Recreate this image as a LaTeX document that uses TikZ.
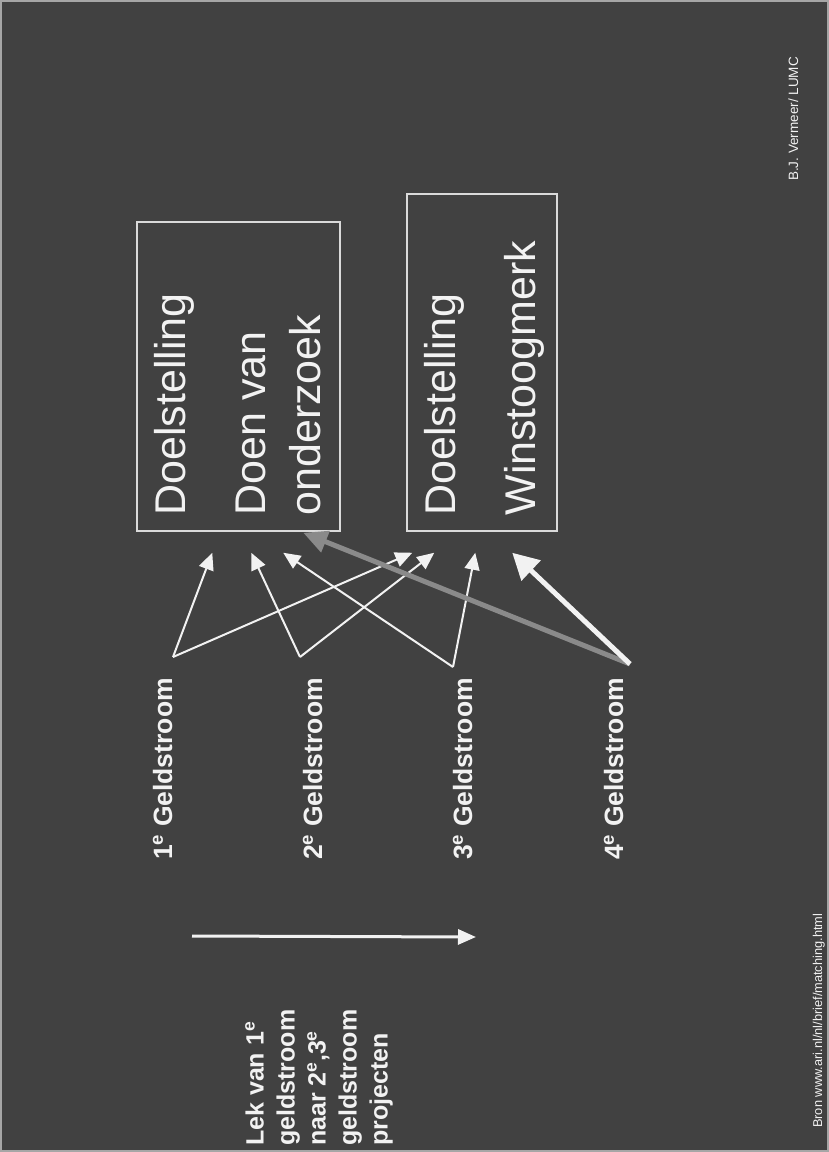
\documentclass[tikz,border=0pt]{standalone}
\usepackage{fontspec}
\setmainfont{Liberation Sans}
\usetikzlibrary{arrows.meta}
\definecolor{slide}{HTML}{414141}
\definecolor{leakgray}{HTML}{8A8A8A}
\definecolor{chalk}{HTML}{F2F2F2}
\tikzset{
  goalbox/.style={draw=chalk!90!black, line width=1.5pt, inner sep=0pt},
  goaltext/.style={text=chalk, rotate=90, inner sep=0pt, align=left, font=\fontsize{43}{55}\selectfont},
  stream/.style={text=chalk, rotate=90, inner sep=0pt, font=\bfseries\fontsize{26.5}{32}\selectfont},
  leaktext/.style={text=chalk, rotate=90, inner sep=0pt, align=left, font=\bfseries\fontsize{25}{31}\selectfont},
  note/.style={text=chalk, rotate=90, inner sep=0pt},
  flow/.style={chalk, line width=2pt, -{Triangle[length=17pt,width=15pt]}},
}
\begin{document}
\begin{tikzpicture}[x=1pt, y=-1pt]
\useasboundingbox (0,0) rectangle (829,1152);
\fill[slide] (0,0) rectangle (829,1152);
\draw[gray!70, line width=2pt] (1,1) rectangle (828,1151);
% goals
\node[goalbox, minimum width=203pt, minimum height=309pt] (box1) at (238.5,376.5) {};
\node[goalbox, minimum width=150pt, minimum height=337pt] (box2) at (482,362.5) {};
\node[goaltext, anchor=north west] (goal1) at ([xshift=18pt,yshift=16pt]box1.south west) {Doelstelling\\[25pt]Doen van\\onderzoek};
\node[goaltext, anchor=north west] (goal2) at ([xshift=18pt,yshift=16pt]box2.south west) {Doelstelling\\[25pt]Winstoogmerk};
% money streams
\foreach \n/\x in {1/172,2/322,3/472,4/623}
  \node[stream, anchor=base east] (g\n) at (\x,678) {\n\textsuperscript{e} Geldstroom};
\coordinate (s1) at ([xshift=1pt,yshift=21pt]g1.base east);
\coordinate (s2) at ([xshift=-22pt,yshift=21pt]g2.base east);
\coordinate (s3) at ([xshift=-19pt,yshift=11pt]g3.base east);
\coordinate (s4) at ([xshift=7pt,yshift=14pt]g4.base east);
\coordinate (t1a) at ([xshift=76pt,yshift=-21pt]box1.south west);
\coordinate (t2a) at ([xshift=115pt,yshift=-21pt]box1.south west);
\coordinate (t3a) at ([xshift=147pt,yshift=-21pt]box1.south west);
\coordinate (t4a) at ([xshift=167pt,yshift=-1pt]box1.south west);
\coordinate (t1b) at ([xshift=6pt,yshift=-21pt]box2.south west);
\coordinate (t2b) at ([xshift=28pt,yshift=-21pt]box2.south west);
\coordinate (t3b) at ([xshift=69pt,yshift=-21pt]box2.south west);
\coordinate (t4b) at ([xshift=106pt,yshift=-21pt]box2.south west);
\foreach \s/\t in {s1/t1a,s1/t1b,s2/t2a,s2/t2b,s3/t3a,s3/t3b}
  \draw[flow] (\s) -- (\t);
\draw[leakgray, line width=5pt, -{Triangle[length=24pt,width=22pt]}] (s4) -- (t4a);
\draw[chalk, line width=5pt, -{Triangle[length=26pt,width=27pt]}] (s4) -- (t4b);
% leak
\node[leaktext, anchor=north west] (leak) at (245,1146) {Lek van 1\textsuperscript{e}\\geldstroom\\naar 2\textsuperscript{e},3\textsuperscript{e}\\geldstroom\\projecten};
\coordinate (lekA) at (192,936);
\coordinate (lekB) at (476,937);
\draw[chalk, line width=3pt, -{Triangle[length=18pt,width=15pt]}] (lekA) -- (lekB);
% credits
\node[note, anchor=base west, font=\fontsize{13.5}{16}\selectfont] (credit) at (798,181) {B.J. Vermeer/ LUMC};
\node[note, anchor=base west, font=\fontsize{12.8}{15}\selectfont] (source) at (822,1128) {Bron www.ari.nl/nl/brief/matching.html};
\end{tikzpicture}
\end{document}
